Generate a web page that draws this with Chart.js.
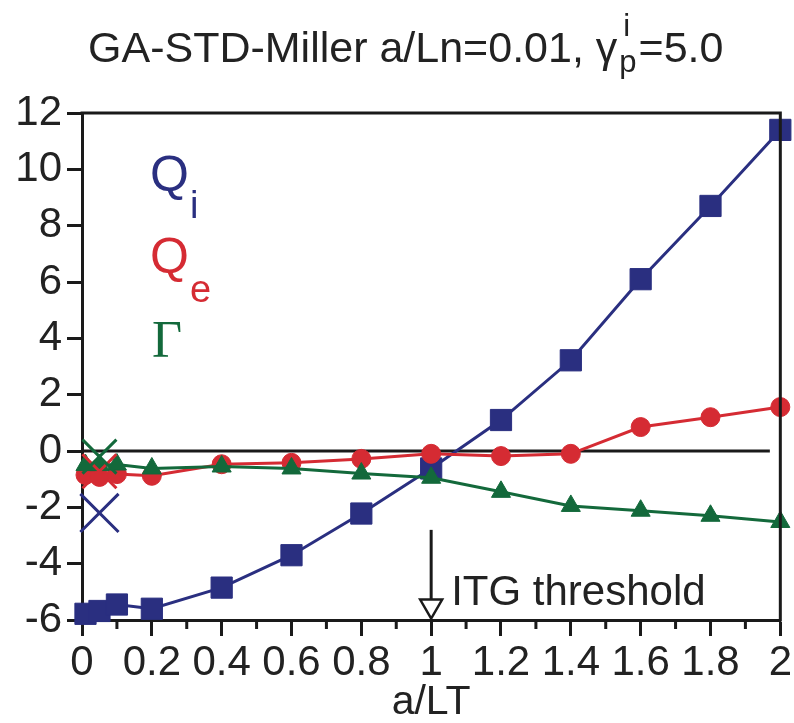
<!DOCTYPE html>
<html>
<head>
<meta charset="utf-8">
<script src="https://cdn.jsdelivr.net/npm/chart.js@4.4.1/dist/chart.umd.min.js"></script>
<style>
  html, body { margin: 0; padding: 0; background: #fff; }
  #wrap { width: 794px; height: 723px; }
</style>
</head>
<body>
<div id="wrap"><canvas id="chart" width="794" height="723"></canvas></div>
<script>
// a/LT values and fluxes
const aLT      = [0.01, 0.05, 0.1, 0.2, 0.4, 0.6, 0.8, 1.0, 1.2, 1.4, 1.6, 1.8, 2.0];
const qiVals   = [-5.78, -5.68, -5.45, -5.6, -4.85, -3.7, -2.22, -0.62, 1.1, 3.22, 6.1, 8.7, 11.4];
const qeVals   = [-0.85, -0.92, -0.82, -0.88, -0.47, -0.42, -0.28, -0.1, -0.18, -0.1, 0.85, 1.2, 1.56];
const gamVals  = [-0.5, -0.5, -0.48, -0.62, -0.55, -0.62, -0.8, -0.95, -1.45, -1.95, -2.12, -2.3, -2.52];

// single "x" reference points near a/LT = 0.05
const crossX     = [0.05];
const crossQi    = [-2.2];
const crossQe    = [-0.72];
const crossGamma = [-0.2];

// zero reference line
const zeroX = [0, 1.97];
const zeroY = [0, 0];

const minorTicks = [0.1, 0.3, 0.5, 0.7, 0.9, 1.1, 1.3, 1.5, 1.7, 1.9];

// ITG threshold arrow
const itgX = 1.0;
const itgFrom = -2.8;
const itgTo = -5.95;

const BLUE = '#2a2f80', RED = '#d52b33', GREEN = '#13693b', INK = '#1a1a1a';
const FONT = '"Liberation Sans", Arial, sans-serif';

const pts = (xs, ys) => xs.map((x, i) => ({ x, y: ys[i] }));

const overlay = {
  id: 'overlay',
  afterDraw(chart) {
    const { ctx, chartArea: a, scales: { x, y } } = chart;
    ctx.save();
    ctx.strokeStyle = INK;
    ctx.lineWidth = 3;

    // top and right frame
    ctx.beginPath();
    ctx.moveTo(a.left - 1.5, a.top);
    ctx.lineTo(a.right, a.top);
    ctx.lineTo(a.right, a.bottom + 1.5);
    ctx.stroke();

    // minor ticks on the x axis
    ctx.beginPath();
    minorTicks.forEach((v) => {
      const px = x.getPixelForValue(v);
      ctx.moveTo(px, a.bottom);
      ctx.lineTo(px, a.bottom + 9);
    });
    ctx.stroke();

    // threshold arrow
    const ax = x.getPixelForValue(itgX);
    const y0 = y.getPixelForValue(itgFrom);
    const y1 = y.getPixelForValue(itgTo);
    const head = 19;
    ctx.beginPath();
    ctx.moveTo(ax, y0);
    ctx.lineTo(ax, y1 - head);
    ctx.stroke();
    ctx.beginPath();
    ctx.moveTo(ax - 11, y1 - head);
    ctx.lineTo(ax + 11, y1 - head);
    ctx.lineTo(ax, y1);
    ctx.closePath();
    ctx.fillStyle = '#fff';
    ctx.fill();
    ctx.lineWidth = 2.5;
    ctx.stroke();

    ctx.fillStyle = '#222';
    ctx.textBaseline = 'alphabetic';
    ctx.textAlign = 'left';
    ctx.font = '42px ' + FONT;
    ctx.fillText('ITG threshold', ax + 20, y1 - 14);

    // title with stacked super/subscript
    let tx = 88;
    const main = 'GA-STD-Miller a/Ln=0.01, \u03b3';
    ctx.font = '43px ' + FONT;
    ctx.fillText(main, tx, 62);
    tx += ctx.measureText(main).width;
    ctx.font = '31px ' + FONT;
    ctx.fillText('i', tx + 6, 36);
    ctx.fillText('p', tx + 2, 72);
    tx += ctx.measureText('p').width + 4;
    ctx.font = '43px ' + FONT;
    ctx.fillText('=5.0', tx, 62);

    // in-plot labels
    const lab = (big, sub, color, bx, by, sy) => {
      ctx.fillStyle = color;
      ctx.font = '50px ' + FONT;
      ctx.fillText(big, bx, by);
      const w = ctx.measureText(big).width;
      if (sub) {
        ctx.font = '38px ' + FONT;
        ctx.fillText(sub, bx + w + 1, sy);
      }
    };
    lab('Q', 'i', BLUE, 150, 191, 218);
    lab('Q', 'e', RED, 150, 273, 302);
    ctx.fillStyle = GREEN;
    ctx.font = '52px "Liberation Serif", serif';
    ctx.fillText('\u0393', 152, 357);

    ctx.restore();
  }
};

new Chart(document.getElementById('chart'), {
  type: 'scatter',
  data: {
    datasets: [
      { label: 'cross Gamma', data: pts(crossX, crossGamma), showLine: false, pointStyle: 'crossRot',
        pointRadius: 24, borderColor: GREEN, pointBorderWidth: 3, clip: false },
      { label: 'cross Qe', data: pts(crossX, crossQe), showLine: false, pointStyle: 'crossRot',
        pointRadius: 24, borderColor: RED, pointBorderWidth: 3, clip: false },
      { label: 'Gamma', data: pts(aLT, gamVals), showLine: true, borderColor: GREEN, backgroundColor: GREEN,
        borderWidth: 3, pointStyle: 'triangle', pointRadius: 11, pointBorderWidth: 1, clip: false },
      { label: 'Qe', data: pts(aLT, qeVals), showLine: true, borderColor: RED, backgroundColor: RED,
        borderWidth: 3, pointStyle: 'circle', pointRadius: 9.5, pointBorderWidth: 1, clip: false },
      { label: 'Qi', data: pts(aLT, qiVals), showLine: true, borderColor: BLUE, backgroundColor: BLUE,
        borderWidth: 3, pointStyle: 'rect', pointRadius: 15, pointBorderWidth: 1, clip: false },
      { label: 'cross Qi', data: pts(crossX, crossQi), showLine: false, pointStyle: 'crossRot',
        pointRadius: 27, borderColor: BLUE, pointBorderWidth: 3, clip: false },
      { label: 'zero', data: pts(zeroX, zeroY), showLine: true, borderColor: INK, borderWidth: 3,
        pointRadius: 0 },
    ],
  },
  options: {
    responsive: false,
    animation: false,
    devicePixelRatio: 1,
    layout: { autoPadding: false, padding: { top: 113, right: 10, bottom: 0, left: 0 } },
    plugins: { legend: { display: false }, tooltip: { enabled: false } },
    scales: {
      x: {
        type: 'linear', min: 0, max: 2,
        afterFit: (s) => { s.height = 103; },
        ticks: { stepSize: 0.2, padding: 2, color: '#222', font: { family: FONT, size: 42 },
                 callback: (v) => String(Math.round(v * 10) / 10) },
        grid: { drawOnChartArea: false, tickLength: 16, tickWidth: 3, tickColor: INK },
        border: { color: INK, width: 3 },
        title: { display: true, text: 'a/LT', color: '#222', padding: 0,
                 font: { family: FONT, size: 41, lineHeight: 1 } },
      },
      y: {
        type: 'linear', min: -6, max: 12,
        afterFit: (s) => { s.width = 82; },
        ticks: { stepSize: 2, padding: 5, color: '#222', font: { family: FONT, size: 42 } },
        grid: { drawOnChartArea: false, tickLength: 15, tickWidth: 3, tickColor: INK },
        border: { color: INK, width: 3 },
      },
    },
  },
  plugins: [overlay],
});
</script>
</body>
</html>
